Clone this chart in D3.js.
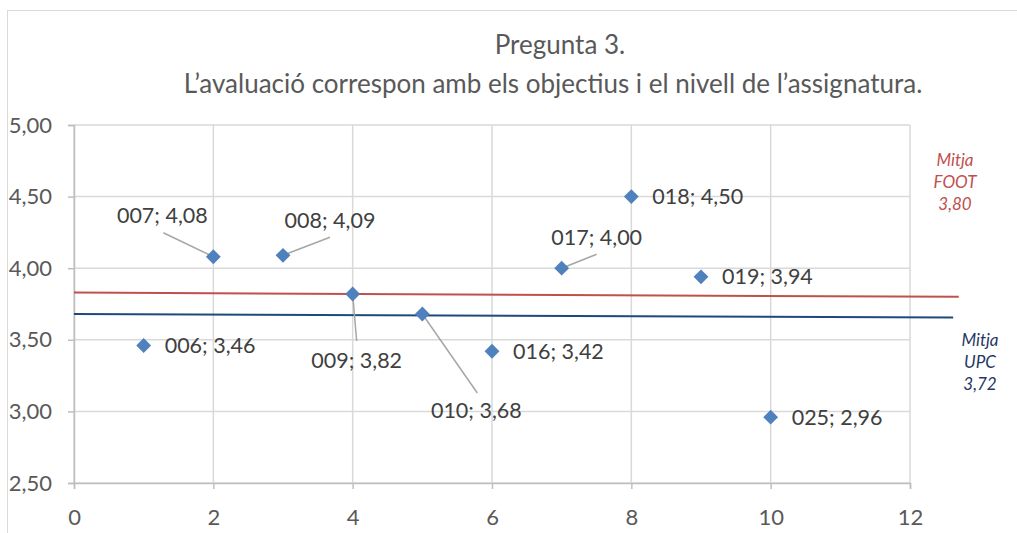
<!DOCTYPE html>
<html>
<head>
<meta charset="utf-8">
<script src="https://d3js.org/d3.v7.min.js"></script>
<style>
  body { margin: 0; background: #fff; }
  svg text { font-family: "Lato", "Open Sans", sans-serif; }
</style>
</head>
<body>
<div id="chart"></div>
<script>
// data
const codes  = ["006", "007", "008", "009", "010", "016", "017", "018", "019", "025"];
const xVals  = [1, 2, 3, 4, 5, 6, 7, 8, 9, 10];
const yVals  = [3.46, 4.08, 4.09, 3.82, 3.68, 3.42, 4.00, 4.50, 3.94, 2.96];
const footLine = [[0, 3.83], [12.7, 3.80]];
const upcLine  = [[0, 3.68], [12.62, 3.655]];
const xTicks = [0, 2, 4, 6, 8, 10, 12];
const yTicks = [2.5, 3, 3.5, 4, 4.5, 5];

// label placement (pixel offsets from the point), null = plain label to the right
const labelPos = [null, [-51, -41], [47, -35], [4, 66], [54, 96], null, [35, -31], null, null, null];
const leaderEnd = [null, [-50, -24], [47, -18], [4, 47], [55, 79], null, [35, -14], null, null, null];

const width = 1017, height = 533;

const svg = d3.select("#chart").append("svg")
    .attr("width", width)
    .attr("height", height);

svg.append("rect")
    .attr("x", 7.5).attr("y", 10.5)
    .attr("width", 1030).attr("height", 540)
    .attr("fill", "#fff")
    .attr("stroke", "#d9d9d9");

const x = d3.scaleLinear().domain([0, 12]).range([74, 910]);
const y = d3.scaleLinear().domain([2.5, 5]).range([483, 125]);
const fmt = v => d3.format(".2f")(v).replace(".", ",");

// title
svg.append("text")
    .attr("x", 560).attr("y", 54)
    .attr("text-anchor", "middle")
    .attr("fill", "#595959")
    .style("font-size", "26px")
    .text("Pregunta 3.");
svg.append("text")
    .attr("x", 553).attr("y", 93)
    .attr("text-anchor", "middle")
    .attr("fill", "#595959")
    .style("font-size", "26px")
    .text("L\u2019avaluació correspon amb els objectius i el nivell de l\u2019assignatura.");

// grid
svg.append("g").selectAll("line").data(yTicks).join("line")
    .attr("x1", x(0)).attr("x2", x(12))
    .attr("y1", d => y(d)).attr("y2", d => y(d))
    .attr("stroke", "#d9d9d9").attr("stroke-width", 1.5);
svg.append("g").selectAll("line").data(xTicks).join("line")
    .attr("x1", d => x(d)).attr("x2", d => x(d))
    .attr("y1", y(5)).attr("y2", y(2.5))
    .attr("stroke", "#d9d9d9").attr("stroke-width", 1.5);

// axes
const xAxis = svg.append("g")
    .attr("transform", "translate(0," + y(2.5) + ")")
    .call(d3.axisBottom(x).tickValues(xTicks).tickSize(6).tickPadding(20).tickFormat(d3.format("d")));
const yAxis = svg.append("g")
    .attr("transform", "translate(" + x(0) + ",0)")
    .call(d3.axisLeft(y).tickValues(yTicks).tickSize(6).tickPadding(16).tickFormat(fmt));
[xAxis, yAxis].forEach(a => {
  a.select(".domain").attr("stroke", "#bfbfbf").attr("stroke-width", 1.5);
  a.selectAll(".tick line").attr("stroke", "#bfbfbf").attr("stroke-width", 1.5);
  a.selectAll(".tick text").attr("fill", "#595959").style("font-size", "22px")
    .style("font-family", "Lato, 'Open Sans', sans-serif");
});

// mean lines
const line = d3.line().x(d => x(d[0])).y(d => y(d[1]));
svg.append("path").datum(footLine).attr("d", line)
    .attr("fill", "none").attr("stroke", "#c0504d").attr("stroke-width", 2);
svg.append("path").datum(upcLine).attr("d", line)
    .attr("fill", "none").attr("stroke", "#1f497d").attr("stroke-width", 2);

const meanLabel = (lines, cx, cy, color) => {
  const t = svg.append("text")
      .attr("text-anchor", "middle")
      .attr("fill", color)
      .style("font-size", "17px")
      .style("font-style", "italic");
  lines.forEach((s, i) => t.append("tspan").attr("x", cx).attr("y", cy + i * 22).text(s));
};
meanLabel(["Mitja", "FOOT", "3,80"], 955, 166, "#c0504d");
meanLabel(["Mitja", "UPC", "3,72"], 980, 346, "#1f3864");

// leader lines
const pts = codes.map((c, i) => ({code: c, x: xVals[i], y: yVals[i], lp: labelPos[i], le: leaderEnd[i]}));
svg.append("g").selectAll("line").data(pts.filter(d => d.le)).join("line")
    .attr("x1", d => x(d.x)).attr("y1", d => y(d.y))
    .attr("x2", d => x(d.x) + d.le[0]).attr("y2", d => y(d.y) + d.le[1])
    .attr("stroke", "#a6a6a6").attr("stroke-width", 1.5);

// points
svg.append("g").selectAll("path").data(pts).join("path")
    .attr("d", d3.symbol(d3.symbolSquare, 110))
    .attr("transform", d => "translate(" + x(d.x) + "," + y(d.y) + ") rotate(45)")
    .attr("fill", "#4f81bd");

// labels
svg.append("g").selectAll("text").data(pts).join("text")
    .attr("x", d => d.lp ? x(d.x) + d.lp[0] : x(d.x) + 21)
    .attr("y", d => d.lp ? y(d.y) + d.lp[1] : y(d.y))
    .attr("dy", "0.35em")
    .attr("text-anchor", d => d.lp ? "middle" : "start")
    .attr("fill", "#404040")
    .style("font-size", "21.5px")
    .text(d => d.code + "; " + fmt(d.y));
</script>
</body>
</html>
